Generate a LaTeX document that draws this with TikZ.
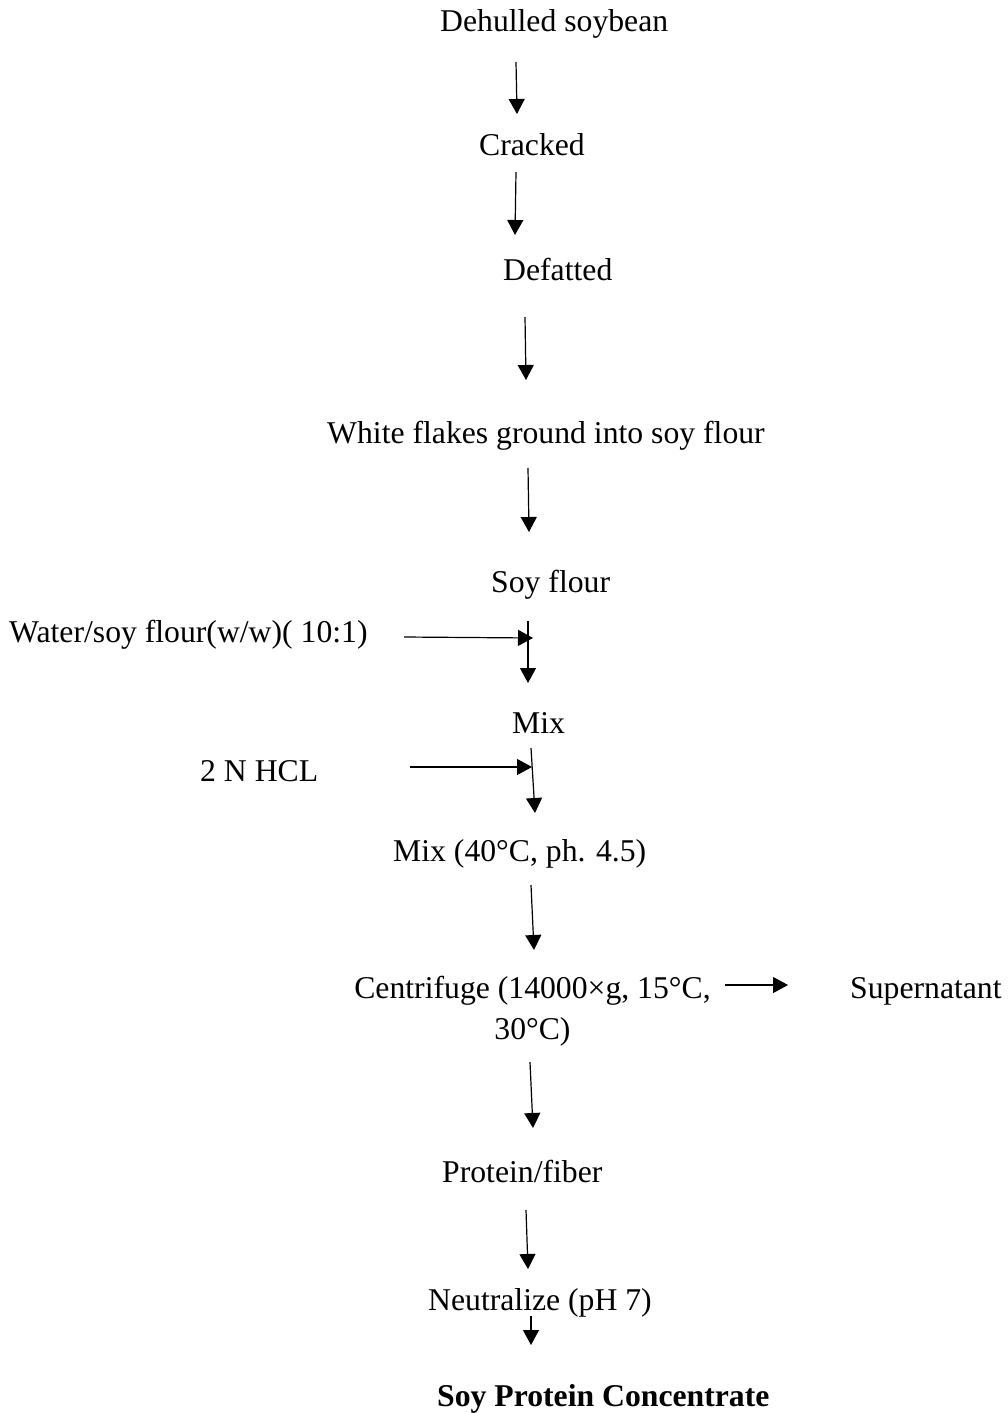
\documentclass[tikz,border=0pt]{standalone}
\usepackage{fontspec}
\setmainfont{Liberation Serif}
\usetikzlibrary{arrows.meta}
\begin{document}
\begin{tikzpicture}[x=1pt,y=-1pt,
  lbl/.style={font=\fontsize{31.7}{38}\selectfont, inner sep=0pt, anchor=base west},
  clbl/.style={font=\fontsize{31.7}{38}\selectfont, inner sep=0pt, anchor=base},
  flow/.style={line width=1.2pt, -{Triangle[length=15pt,width=16pt]}}]
\useasboundingbox (0,0) rectangle (1008,1413);
% texts
\node[lbl] (n1) at (440,32) {Dehulled soybean};
\node[lbl] (n2) at (479,155) {Cracked};
\node[lbl] (n3) at (503,280) {Defatted};
\node[lbl] (n4) at (327,443) {White flakes ground into soy flour};
\node[lbl] (n5) at (491,592) {Soy flour};
\node[lbl] (w) at (9,642) {Water/soy flour(w/w)( 10:1)};
\node[lbl] (n6) at (512,733) {Mix};
\node[lbl] (h) at (200,781) {2 N HCL};
\node[lbl] (n7) at (393,861) {Mix (40°C, ph. 4.5)};
\node[clbl] (n8) at (532.5,998) {Centrifuge (14000×g, 15°C,};
\node[clbl] (n8b) at (532.5,1039) {30°C)};
\node[lbl] (sup) at (850,998) {Supernatant};
\node[lbl] (n9) at (442,1182) {Protein/fiber};
\node[lbl] (n10) at (428,1310) {Neutralize (pH 7)};
\node[lbl, font=\fontsize{31.7}{38}\selectfont\bfseries] (n11) at (437,1406) {Soy Protein Concentrate};
% connector end points
\coordinate (a1s) at (516,62);   \coordinate (a1e) at (517,114);
\coordinate (a2s) at (516,172);  \coordinate (a2e) at (515,235);
\coordinate (a3s) at (525,317);  \coordinate (a3e) at (526,380);
\coordinate (a4s) at (528,468);  \coordinate (a4e) at (529,532);
\coordinate (ws) at (404,637);   \coordinate (we) at (533,638);
\coordinate (a5s) at (528,621);  \coordinate (a5e) at (528,683);
\coordinate (hs) at (410,767);   \coordinate (he) at (532,767);
\coordinate (a6s) at (531,748);  \coordinate (a6e) at (535,813);
\coordinate (a7s) at (531,885);  \coordinate (a7e) at (534,950);
\coordinate (ss) at (725,985);   \coordinate (se) at (788,985);
\coordinate (a8s) at (530,1062); \coordinate (a8e) at (533,1128);
\coordinate (a9s) at (526,1210); \coordinate (a9e) at (528,1269);
\coordinate (a10s) at (531,1316); \coordinate (a10e) at (531,1345);
% connectors
\draw[flow] (a1s) -- (a1e);
\draw[flow] (a2s) -- (a2e);
\draw[flow] (a3s) -- (a3e);
\draw[flow] (a4s) -- (a4e);
\draw[flow] (ws) -- (we);
\draw[flow] (a5s) -- (a5e);
\draw[flow] (hs) -- (he);
\draw[flow] (a6s) -- (a6e);
\draw[flow] (a7s) -- (a7e);
\draw[flow] (ss) -- (se);
\draw[flow] (a8s) -- (a8e);
\draw[flow] (a9s) -- (a9e);
\draw[flow] (a10s) -- (a10e);
\end{tikzpicture}
\end{document}
